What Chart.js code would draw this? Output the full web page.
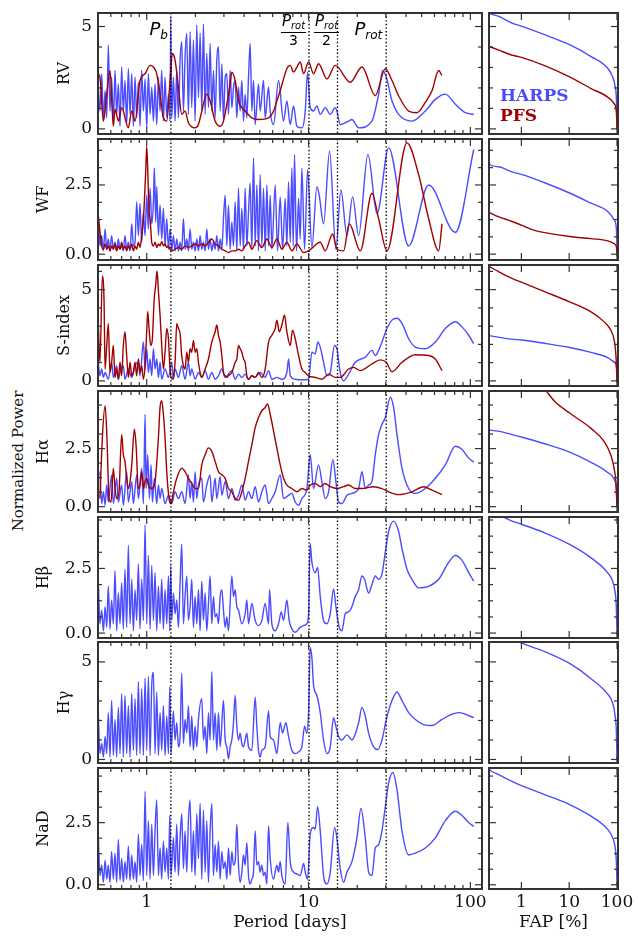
<!DOCTYPE html>
<html>
<head>
<meta charset="utf-8">
<script src="https://cdn.jsdelivr.net/npm/chart.js@4.4.0/dist/chart.umd.min.js"></script>
<style>
  html, body { margin: 0; padding: 0; background: #fff; }
  #fig { position: relative; width: 638px; height: 936px; overflow: hidden; }
  #fig canvas { position: absolute; }
  #ylab { position: absolute; left: 18px; top: 461px; transform: translate(-50%, -50%) rotate(-90deg);
          font: 15px 'DejaVu Serif'; white-space: nowrap; color: #111; }
</style>
</head>
<body>
<div id="fig"><div id="ylab">Normalized Power</div></div>
<script>
// periodogramas: pares [periodo (dias), potencia normalizada]
const rvHarps = [[0.502,2.03],[0.514,0.87],[0.527,2.69],[0.540,0.38],[0.553,1.86],[0.566,0.54],[0.579,4.09],[0.593,0.87],[0.607,2.52],[0.622,0.21],[0.637,2.85],[0.652,0.71],[0.668,2.19],[0.684,0.13],[0.700,3.02],[0.717,0.87],[0.734,2.36],[0.752,0.21],[0.770,2.94],[0.789,0.71],[0.808,2.69],[0.827,0.13],[0.847,2.52],[0.867,0.54],[0.888,2.28],[0.909,0.13],[0.931,2.85],[0.954,0.87],[0.977,2.44],[1.000,0.05],[1.024,2.69],[1.049,0.71],[1.074,2.03],[1.100,0.38],[1.126,2.19],[1.153,0.21],[1.181,2.52],[1.209,0.87],[1.238,2.85],[1.268,0.38],[1.298,2.52],[1.330,0.54],[1.362,1.70],[1.394,0.38],[1.407,5.41],[1.428,0.54],[1.462,2.52],[1.497,0.38],[1.533,2.85],[1.570,0.54],[1.608,3.35],[1.646,4.26],[1.686,0.87],[1.726,3.51],[1.768,4.67],[1.810,0.71],[1.854,4.75],[1.898,1.04],[1.944,4.34],[1.991,0.38],[2.039,5.08],[2.088,1.53],[2.138,4.67],[2.189,0.87],[2.242,5.13],[2.296,0.71],[2.351,3.68],[2.407,1.04],[2.465,4.17],[2.525,0.87],[2.585,2.85],[2.647,0.54],[2.711,3.35],[2.776,4.01],[2.843,0.87],[2.911,3.18],[2.981,0.38],[3.053,2.52],[3.126,2.69],[3.201,0.71],[3.278,2.85],[3.357,1.04],[3.437,2.03],[3.520,2.36],[3.604,0.54],[3.691,2.03],[3.780,0.87],[3.870,2.36],[3.963,0.38],[4.059,1.70],[4.156,0.54],[4.256,2.52],[4.358,4.17],[4.463,0.87],[4.570,2.36],[4.680,0.21],[4.908,2.19],[5.025,0.87],[5.270,2.36],[5.396,0.54],[5.659,2.03],[5.795,0.87],[6.077,0.21],[6.525,2.36],[7.007,0.38],[7.347,1.37],[7.705,0.21],[8.079,1.12],[8.472,0.13],[9.097,0.05],[9.540,0.87],[9.862,2.77],[10.24,1.04],[10.74,0.87],[11.26,1.12],[11.81,0.71],[12.68,1.04],[13.62,0.71],[14.62,1.04],[14.97,0.87],[15.70,0.21],[17.68,0.38],[18.54,0.46],[20.39,0.05],[24.65,0.38],[27.11,1.70],[28.69,2.85],[30.24,2.52],[32.78,1.37],[36.04,0.71],[43.58,0.38],[52.69,0.87],[60.75,1.44],[70.05,1.70],[80.77,1.20],[93.13,0.79],[104.9,0.71]];
const rvPfs = [[0.502,2.69],[0.514,2.52],[0.540,0.38],[0.566,1.70],[0.593,2.85],[0.622,0.13],[0.637,0.96],[0.668,0.38],[0.700,1.04],[0.770,0.05],[0.808,0.87],[0.847,0.38],[0.909,2.36],[0.977,2.69],[1.049,3.10],[1.100,3.02],[1.153,2.69],[1.209,1.70],[1.268,0.54],[1.330,0.38],[1.394,2.36],[1.442,3.68],[1.497,3.35],[1.570,2.03],[1.646,0.71],[1.726,0.87],[1.810,0.30],[1.991,0.05],[2.088,0.21],[2.189,0.87],[2.351,1.70],[2.465,1.37],[2.647,0.38],[2.843,0.13],[2.981,0.38],[3.126,1.20],[3.278,2.19],[3.357,2.77],[3.520,2.36],[3.691,1.37],[3.870,1.04],[4.059,0.87],[4.463,0.54],[4.908,0.46],[5.659,0.54],[6.077,0.87],[6.372,1.37],[6.682,1.86],[7.347,2.94],[7.705,3.10],[8.079,2.77],[8.472,3.02],[8.884,3.27],[9.316,2.69],[10.00,3.27],[10.74,2.69],[11.53,3.18],[12.99,2.44],[14.62,3.10],[18.11,2.28],[21.38,3.02],[25.85,1.62],[29.81,2.94],[32.78,2.36],[36.04,1.62],[41.56,0.87],[46.79,0.79],[52.69,1.29],[57.94,1.86],[63.71,2.85],[66.80,2.61]];

const wfHarps = [[0.502,1.40],[0.514,0.30],[0.527,0.67],[0.540,0.12],[0.553,0.91],[0.566,0.18],[0.579,0.55],[0.593,0.12],[0.607,0.67],[0.622,0.18],[0.637,0.43],[0.652,0.12],[0.668,0.55],[0.684,0.18],[0.700,0.30],[0.717,0.12],[0.734,0.67],[0.752,0.18],[0.770,0.43],[0.789,0.12],[0.808,1.10],[0.827,0.30],[0.847,0.43],[0.867,1.89],[0.888,0.67],[0.909,1.83],[0.931,0.43],[0.954,1.52],[0.977,0.67],[1.000,2.13],[1.024,0.91],[1.049,2.38],[1.074,1.10],[1.100,1.89],[1.115,3.11],[1.137,1.16],[1.153,2.44],[1.181,0.67],[1.209,1.77],[1.238,0.55],[1.268,1.65],[1.298,0.30],[1.330,1.28],[1.362,0.18],[1.394,0.91],[1.428,0.12],[1.462,0.67],[1.497,0.12],[1.533,0.55],[1.570,0.12],[1.608,0.43],[1.646,0.12],[1.686,1.28],[1.726,0.18],[1.768,0.55],[1.810,0.12],[1.854,0.91],[1.898,0.18],[1.944,0.43],[1.991,0.12],[2.039,0.55],[2.088,0.12],[2.138,0.67],[2.189,0.18],[2.242,0.43],[2.296,0.12],[2.351,0.91],[2.407,0.18],[2.465,0.55],[2.525,0.12],[2.585,0.43],[2.647,0.18],[2.711,0.67],[2.776,0.12],[2.843,0.55],[2.911,0.18],[2.981,1.28],[3.053,2.13],[3.126,0.30],[3.201,1.77],[3.278,0.18],[3.357,1.16],[3.437,0.30],[3.520,1.89],[3.604,0.12],[3.691,2.38],[3.780,0.30],[3.870,1.65],[3.963,0.18],[4.059,2.38],[4.156,0.30],[4.256,1.52],[4.358,2.56],[4.463,0.18],[4.570,3.48],[4.680,0.30],[4.792,2.50],[4.908,0.12],[5.025,2.87],[5.146,0.30],[5.270,2.38],[5.396,0.12],[5.526,2.50],[5.659,0.30],[5.795,2.13],[5.934,0.18],[6.223,2.50],[6.43,0.12],[6.682,2.07],[6.91,0.18],[7.175,2.01],[7.347,0.30],[7.524,2.62],[7.705,0.43],[7.890,3.11],[8.04,0.30],[8.19,3.60],[8.43,0.12],[8.676,2.01],[8.884,0.55],[9.097,3.11],[9.45,0.18],[9.862,3.05],[10.49,0.24],[11.26,2.44],[11.64,2.13],[12.38,1.10],[13.49,3.72],[14.76,0.18],[15.85,2.32],[17.27,0.67],[18.72,2.07],[20.39,0.67],[23.28,3.60],[26.47,1.46],[31.26,3.84],[41.56,0.30],[55.25,2.50],[80.77,0.79],[104.9,3.78]];
const wfPfs = [[0.502,1.40],[0.527,0.30],[0.540,0.18],[0.553,0.37],[0.566,0.18],[0.579,0.30],[0.593,0.12],[0.607,0.30],[0.622,0.18],[0.637,0.37],[0.652,0.12],[0.668,0.30],[0.684,0.18],[0.700,0.43],[0.717,0.18],[0.734,0.30],[0.752,0.12],[0.770,0.30],[0.789,0.18],[0.808,0.37],[0.827,0.12],[0.847,0.30],[0.867,0.18],[0.888,0.43],[0.909,0.24],[0.931,0.67],[0.954,1.28],[0.967,1.89],[0.986,3.00],[1.000,3.90],[1.014,3.11],[1.034,1.50],[1.049,1.28],[1.074,0.43],[1.100,0.30],[1.126,0.43],[1.153,0.24],[1.181,0.37],[1.209,0.30],[1.238,0.46],[1.268,0.30],[1.298,0.37],[1.330,0.24],[1.362,0.30],[1.394,0.18],[1.428,0.12],[1.497,0.18],[1.570,0.24],[1.646,0.18],[1.726,0.30],[1.810,0.24],[1.898,0.30],[1.991,0.37],[2.088,0.30],[2.189,0.37],[2.296,0.30],[2.407,0.43],[2.525,0.55],[2.647,0.37],[2.776,0.30],[2.911,0.18],[3.053,0.12],[3.201,0.06],[3.357,0.12],[3.520,0.12],[3.691,0.18],[3.870,0.12],[4.059,0.30],[4.256,0.43],[4.463,0.18],[4.792,0.49],[5.146,0.24],[5.526,0.55],[5.934,0.24],[6.372,0.55],[6.843,0.18],[7.347,0.43],[7.890,0.12],[8.472,0.37],[9.316,0.06],[10.00,0.12],[11.81,0.43],[12.68,0.12],[14.08,0.73],[14.97,0.18],[16.47,0.12],[17.84,1.10],[20.88,0.12],[24.65,2.20],[27.11,1.28],[30.52,0.12],[40.58,4.02],[47.92,2.87],[55.25,1.28],[63.71,0.12],[66.80,1.10]];

const sHarps = [[0.502,1.02],[0.514,0.28],[0.527,0.65],[0.540,0.19],[0.553,0.46],[0.579,0.09],[0.607,1.02],[0.622,0.19],[0.652,0.83],[0.668,0.09],[0.684,0.46],[0.717,0.83],[0.734,0.09],[0.770,0.65],[0.808,0.19],[0.847,0.83],[0.888,1.02],[0.909,0.28],[0.954,2.13],[0.977,0.65],[1.000,1.76],[1.024,0.46],[1.049,1.20],[1.074,0.28],[1.100,1.76],[1.126,0.65],[1.153,1.20],[1.181,0.19],[1.209,1.02],[1.238,0.09],[1.298,0.65],[1.362,0.19],[1.428,1.02],[1.462,0.09],[1.497,0.65],[1.570,0.19],[1.646,0.83],[1.726,0.09],[1.810,1.02],[1.854,0.28],[1.898,0.65],[1.991,0.09],[2.088,0.46],[2.189,0.19],[2.296,0.56],[2.407,0.09],[2.525,0.46],[2.647,0.09],[2.776,0.28],[2.911,0.65],[3.053,0.19],[3.201,0.37],[3.357,0.56],[3.520,0.09],[3.691,0.37],[3.870,0.19],[4.059,0.37],[4.256,0.09],[4.463,0.28],[4.680,0.19],[5.025,0.46],[5.396,0.19],[5.659,0.56],[5.934,0.09],[6.372,0.19],[6.843,0.09],[7.347,0.46],[7.524,1.20],[7.705,0.28],[8.273,0.09],[9.097,0.06],[10.00,0.09],[10.49,1.57],[11.00,1.48],[11.42,2.13],[11.81,1.85],[12.38,1.02],[12.99,0.28],[13.62,0.46],[14.48,1.94],[14.97,1.76],[15.70,0.46],[16.47,0.00],[17.68,0.37],[19.44,1.02],[22.42,1.30],[24.65,1.67],[25.85,1.39],[27.11,1.67],[28.42,2.13],[30.52,2.87],[32.78,3.33],[35.20,3.43],[37.79,3.15],[41.56,2.31],[45.70,1.85],[52.69,1.76],[60.75,2.13],[70.05,2.87],[80.77,3.24],[88.82,2.96],[97.66,2.50],[104.9,2.04]];
const sPfs = [[0.502,3.15],[0.514,1.02],[0.532,5.74],[0.545,4.35],[0.553,0.65],[0.566,1.94],[0.579,3.15],[0.593,0.46],[0.607,1.02],[0.622,1.94],[0.637,0.19],[0.652,0.65],[0.668,0.09],[0.684,1.02],[0.700,0.28],[0.717,1.94],[0.734,2.69],[0.752,1.39],[0.770,0.19],[0.789,1.02],[0.808,0.28],[0.827,0.46],[0.847,1.02],[0.867,0.28],[0.888,1.20],[0.909,0.46],[0.931,0.83],[0.954,0.09],[0.977,0.83],[1.000,2.69],[1.014,3.80],[1.034,2.87],[1.059,1.94],[1.084,2.31],[1.110,4.35],[1.137,5.28],[1.159,6.02],[1.181,4.91],[1.209,3.61],[1.238,1.94],[1.268,0.65],[1.298,1.57],[1.330,2.87],[1.362,2.31],[1.394,0.65],[1.428,0.09],[1.497,1.02],[1.533,3.15],[1.570,2.87],[1.608,2.59],[1.646,1.39],[1.686,0.83],[1.726,0.65],[1.768,1.57],[1.810,1.02],[1.854,1.76],[1.898,1.57],[1.944,2.22],[1.991,1.57],[2.039,1.76],[2.088,1.02],[2.138,0.46],[2.189,0.19],[2.296,0.65],[2.407,1.20],[2.525,2.13],[2.647,2.69],[2.711,3.06],[2.776,2.50],[2.843,2.13],[2.911,1.39],[2.981,0.46],[3.053,0.28],[3.126,0.19],[3.201,0.28],[3.357,0.46],[3.520,1.02],[3.604,1.20],[3.691,1.94],[3.780,1.76],[3.870,1.57],[3.963,1.20],[4.059,1.02],[4.156,0.28],[4.256,0.09],[4.463,0.28],[4.680,0.19],[4.908,0.46],[5.146,0.19],[5.396,0.65],[5.659,2.13],[5.934,2.50],[6.223,2.87],[6.372,3.33],[6.59,2.69],[6.843,3.06],[7.10,3.61],[7.347,2.69],[7.705,1.94],[7.96,2.78],[8.273,2.31],[8.676,1.39],[9.097,0.65],[9.540,0.46],[10.00,0.28],[11.00,0.19],[12.09,0.09],[13.30,0.37],[14.62,0.19],[15.70,0.19],[17.68,0.65],[18.99,0.74],[20.88,0.56],[24.65,0.93],[27.76,1.15],[30.24,1.02],[32.78,0.50],[37.79,1.02],[45.70,1.43],[55.25,1.39],[60.75,1.20],[66.80,0.56]];

const haHarps = [[0.514,1.51],[0.527,0.13],[0.540,0.64],[0.553,0.06],[0.566,0.93],[0.579,0.20],[0.607,1.37],[0.622,0.13],[0.652,1.22],[0.668,0.20],[0.700,0.93],[0.717,0.06],[0.752,1.51],[0.770,0.20],[0.808,1.08],[0.827,0.13],[0.867,1.37],[0.888,0.35],[0.931,1.66],[0.954,0.13],[0.977,3.98],[0.991,0.78],[1.014,2.24],[1.039,0.35],[1.064,1.80],[1.084,0.20],[1.115,1.22],[1.153,0.13],[1.181,0.93],[1.209,0.35],[1.238,0.78],[1.298,0.13],[1.362,0.49],[1.428,0.13],[1.497,0.64],[1.570,0.35],[1.646,0.64],[1.726,0.13],[1.810,1.37],[1.854,0.35],[1.898,1.08],[1.944,0.20],[1.991,1.51],[2.039,0.35],[2.088,0.93],[2.189,1.22],[2.242,0.20],[2.351,0.93],[2.465,1.37],[2.525,0.20],[2.647,1.22],[2.711,0.35],[2.843,1.29],[2.911,0.49],[3.053,1.08],[3.201,0.35],[3.357,0.78],[3.520,0.28],[3.691,0.49],[3.870,0.93],[4.059,0.28],[4.256,0.64],[4.463,0.35],[4.680,0.86],[4.908,0.20],[5.146,0.64],[5.396,0.93],[5.659,0.13],[5.934,0.35],[6.223,0.64],[6.682,1.37],[7.007,0.35],[7.524,0.49],[7.890,0.57],[8.273,0.20],[8.676,0.06],[9.097,0.35],[9.769,0.78],[10.24,2.24],[10.74,0.78],[11.53,1.80],[12.09,1.08],[12.68,0.35],[13.30,0.64],[14.14,2.02],[14.76,1.08],[15.33,0.20],[16.08,0.13],[17.27,0.49],[18.54,0.57],[20.39,0.78],[21.38,1.51],[22.42,0.78],[23.51,0.93],[24.65,1.08],[25.85,2.24],[27.11,3.11],[28.42,3.55],[29.81,3.84],[32.01,4.71],[33.56,4.27],[35.20,3.11],[37.79,1.66],[41.56,0.78],[45.70,0.57],[52.69,0.78],[60.75,1.22],[70.05,1.80],[80.77,2.60],[88.82,2.46],[97.66,2.09],[104.9,1.92]];
const haPfs = [[0.514,0.35],[0.532,2.97],[0.553,4.35],[0.568,2.97],[0.585,0.35],[0.602,0.20],[0.622,1.66],[0.637,0.78],[0.652,0.35],[0.674,0.64],[0.700,3.11],[0.717,2.24],[0.734,1.95],[0.752,1.22],[0.770,0.78],[0.789,1.08],[0.808,1.80],[0.839,3.33],[0.859,2.67],[0.888,0.78],[0.909,0.93],[0.931,1.51],[0.954,0.78],[0.977,1.08],[1.000,1.22],[1.024,0.93],[1.074,0.78],[1.126,1.08],[1.181,2.97],[1.209,4.27],[1.238,4.56],[1.268,3.98],[1.298,2.97],[1.330,1.51],[1.374,0.35],[1.414,0.13],[1.462,0.64],[1.533,1.22],[1.646,1.66],[1.726,1.51],[1.810,1.22],[1.898,1.00],[1.991,0.78],[2.088,0.78],[2.189,1.80],[2.296,2.24],[2.407,2.53],[2.525,2.38],[2.647,1.95],[2.776,1.51],[2.911,1.37],[3.053,1.22],[3.201,0.78],[3.357,0.64],[3.520,0.35],[3.691,0.28],[3.870,0.64],[4.059,1.22],[4.256,1.95],[4.463,2.67],[4.680,3.40],[4.908,3.84],[5.146,4.13],[5.396,4.27],[5.58,4.42],[5.795,3.98],[6.077,3.26],[6.372,2.53],[6.682,1.80],[7.007,1.22],[7.347,0.93],[7.890,0.78],[8.472,0.64],[9.097,0.78],[9.769,0.71],[10.24,0.93],[11.00,1.00],[11.81,0.86],[12.68,1.00],[13.62,0.86],[14.97,0.78],[16.47,0.86],[17.68,0.93],[19.44,0.78],[21.38,0.78],[25.24,0.86],[28.42,0.78],[31.26,0.64],[36.04,0.52],[43.58,0.64],[51.45,0.86],[57.94,0.71],[66.80,0.52]];

const hbHarps = [[0.502,2.08],[0.514,0.36],[0.527,0.89],[0.540,0.09],[0.553,1.02],[0.566,0.22],[0.579,1.81],[0.593,0.16],[0.607,1.28],[0.622,0.36],[0.637,2.41],[0.652,0.09],[0.668,1.55],[0.684,0.36],[0.700,1.94],[0.717,0.16],[0.734,2.47],[0.752,0.22],[0.770,3.40],[0.789,0.36],[0.808,2.08],[0.827,0.09],[0.847,1.68],[0.867,0.49],[0.888,2.67],[0.909,0.16],[0.931,2.08],[0.954,0.49],[0.977,4.19],[1.000,0.36],[1.024,3.00],[1.049,0.16],[1.074,2.61],[1.100,0.49],[1.126,2.34],[1.153,0.09],[1.181,1.81],[1.209,0.36],[1.238,2.08],[1.268,0.16],[1.298,1.68],[1.330,0.36],[1.362,2.21],[1.388,0.09],[1.407,2.61],[1.428,0.49],[1.462,1.55],[1.497,0.75],[1.533,1.28],[1.570,0.22],[1.608,1.94],[1.646,3.44],[1.686,0.36],[1.726,1.42],[1.768,2.21],[1.810,0.49],[1.854,1.02],[1.898,2.08],[1.944,0.22],[1.991,1.42],[2.039,0.36],[2.088,1.68],[2.138,0.09],[2.189,2.01],[2.242,0.49],[2.296,1.55],[2.351,0.09],[2.407,1.15],[2.465,2.21],[2.525,0.36],[2.585,1.42],[2.647,0.62],[2.711,0.75],[2.776,0.36],[2.843,1.42],[2.911,1.68],[2.981,0.89],[3.053,0.22],[3.126,0.62],[3.201,0.09],[3.357,2.21],[3.437,1.42],[3.520,1.68],[3.604,1.02],[3.691,0.89],[3.870,0.36],[4.059,0.75],[4.156,1.28],[4.256,0.36],[4.358,0.75],[4.463,1.15],[4.680,0.49],[4.908,0.29],[5.146,0.49],[5.396,1.15],[5.659,0.36],[5.74,1.68],[5.934,0.36],[6.223,0.09],[6.525,0.36],[6.78,0.82],[7.007,0.49],[7.347,1.28],[7.59,0.49],[7.890,0.16],[8.273,0.03],[8.884,0.22],[9.316,0.29],[9.769,0.36],[10.00,0.75],[10.24,3.47],[10.49,2.74],[11.00,2.34],[11.37,2.54],[11.81,1.42],[12.38,0.49],[12.99,0.36],[13.62,0.75],[14.28,1.71],[14.76,1.02],[15.48,0.22],[16.08,0.09],[16.86,0.75],[17.68,0.82],[18.54,1.02],[19.44,1.42],[20.39,1.68],[21.38,2.21],[22.20,2.08],[23.51,1.55],[24.65,1.88],[25.85,2.21],[27.11,2.08],[28.42,2.28],[29.81,3.13],[31.26,3.93],[33.56,4.33],[36.04,3.93],[37.79,3.27],[40.58,2.47],[43.58,2.08],[47.92,1.75],[55.25,1.81],[63.71,2.08],[73.46,2.74],[80.77,3.00],[88.82,2.81],[97.66,2.34],[104.9,2.01]];

const hgHarps = [[0.502,2.40],[0.514,0.30],[0.527,0.82],[0.540,0.12],[0.553,1.18],[0.566,0.30],[0.579,2.40],[0.593,0.12],[0.607,3.02],[0.622,0.21],[0.637,2.05],[0.652,0.12],[0.668,2.67],[0.684,0.30],[0.700,3.37],[0.717,0.12],[0.734,3.28],[0.752,0.30],[0.770,2.75],[0.789,0.12],[0.808,3.37],[0.827,0.47],[0.847,3.11],[0.867,0.21],[0.888,3.98],[0.909,0.30],[0.931,3.63],[0.954,0.21],[0.977,4.16],[1.000,0.47],[1.024,4.25],[1.049,0.21],[1.074,3.81],[1.100,4.46],[1.126,0.30],[1.153,3.46],[1.181,0.21],[1.209,2.40],[1.238,0.47],[1.268,2.75],[1.298,0.21],[1.330,2.23],[1.362,0.30],[1.388,3.72],[1.414,0.30],[1.462,2.49],[1.497,1.00],[1.533,1.88],[1.570,0.65],[1.608,1.18],[1.646,4.42],[1.686,0.82],[1.726,2.05],[1.768,1.35],[1.810,2.75],[1.854,0.65],[1.898,2.23],[1.944,0.47],[1.991,1.70],[2.039,0.65],[2.088,2.05],[2.189,3.11],[2.242,1.00],[2.296,1.70],[2.351,0.30],[2.407,2.40],[2.465,1.00],[2.525,4.51],[2.585,1.00],[2.647,2.40],[2.711,0.47],[2.776,2.40],[2.843,0.65],[2.981,3.02],[3.053,1.00],[3.126,0.65],[3.201,0.04],[3.278,0.65],[3.357,1.00],[3.437,1.88],[3.520,3.28],[3.604,1.70],[3.691,1.00],[3.780,1.35],[3.870,0.82],[3.963,0.65],[4.059,1.00],[4.156,1.35],[4.256,0.65],[4.463,0.47],[4.680,3.19],[4.792,1.70],[4.908,0.47],[5.025,0.12],[5.146,0.47],[5.396,0.65],[5.659,2.49],[5.795,1.18],[6.077,1.00],[6.372,0.30],[6.682,1.88],[6.91,1.35],[7.24,1.88],[7.524,1.18],[7.890,0.47],[8.273,0.30],[8.676,0.39],[9.097,0.65],[9.45,1.70],[9.769,1.35],[10.00,2.40],[10.24,5.74],[10.49,5.21],[10.74,3.81],[11.26,3.28],[11.81,2.40],[12.38,1.00],[12.99,0.30],[13.62,0.65],[14.28,2.14],[14.76,1.70],[15.33,1.18],[16.08,1.00],[17.27,1.26],[18.54,1.00],[20.39,1.88],[21.38,2.67],[22.42,2.23],[23.51,1.35],[25.24,0.65],[26.85,0.51],[28.42,1.00],[30.24,2.05],[32.78,3.02],[35.20,3.46],[37.79,3.02],[41.56,2.40],[45.70,2.05],[51.45,1.79],[57.94,1.74],[66.80,2.05],[77.03,2.32],[84.70,2.40],[93.13,2.32],[104.9,2.14]];

const naHarps = [[0.502,2.03],[0.514,0.37],[0.527,0.79],[0.540,0.10],[0.553,0.99],[0.566,0.23],[0.579,0.79],[0.593,0.10],[0.607,1.34],[0.622,0.23],[0.637,1.27],[0.652,0.10],[0.668,1.82],[0.684,0.17],[0.700,1.06],[0.717,0.10],[0.734,0.93],[0.752,0.23],[0.770,1.55],[0.789,0.17],[0.808,1.20],[0.827,0.23],[0.847,0.93],[0.867,0.10],[0.888,2.03],[0.909,0.37],[0.931,1.62],[0.954,0.17],[0.977,3.76],[1.000,0.37],[1.024,2.58],[1.049,0.23],[1.074,2.44],[1.100,0.37],[1.126,2.17],[1.153,3.41],[1.181,0.37],[1.209,1.48],[1.238,0.23],[1.268,1.75],[1.298,0.51],[1.330,1.48],[1.362,0.23],[1.388,2.79],[1.414,0.37],[1.462,1.89],[1.497,0.51],[1.533,2.44],[1.570,0.37],[1.608,1.89],[1.646,2.86],[1.686,0.65],[1.726,2.17],[1.768,0.51],[1.810,2.58],[1.854,3.41],[1.898,0.51],[1.944,2.17],[1.991,0.37],[2.039,2.86],[2.088,1.06],[2.138,3.27],[2.189,0.23],[2.242,3.00],[2.296,0.51],[2.351,2.58],[2.407,0.10],[2.465,2.17],[2.525,3.27],[2.585,0.37],[2.647,1.62],[2.711,0.51],[2.776,1.75],[2.843,0.23],[2.911,1.34],[2.981,0.65],[3.053,0.93],[3.126,0.23],[3.201,1.48],[3.278,0.37],[3.357,1.34],[3.437,0.79],[3.520,0.93],[3.604,2.44],[3.691,0.79],[3.780,0.10],[3.870,0.51],[3.963,1.20],[4.059,0.79],[4.156,1.69],[4.256,0.37],[4.358,0.03],[4.463,0.23],[4.570,0.51],[4.680,2.17],[4.792,0.79],[4.908,0.93],[5.025,0.51],[5.146,0.79],[5.270,0.37],[5.396,0.51],[5.526,0.03],[5.659,2.38],[5.795,1.06],[6.077,0.23],[6.372,0.79],[6.525,0.51],[6.682,0.93],[6.843,0.37],[7.175,0.03],[7.45,2.51],[7.705,0.93],[8.079,0.51],[8.472,0.44],[8.884,0.37],[9.316,0.86],[9.540,0.51],[9.862,0.23],[10.24,2.03],[10.74,2.31],[11.00,2.24],[11.37,3.14],[11.81,2.17],[12.38,0.37],[12.99,0.03],[13.62,0.51],[14.48,2.31],[14.97,1.89],[15.70,0.65],[16.47,0.10],[17.27,0.51],[18.54,0.93],[19.91,1.89],[21.07,3.07],[22.42,1.89],[23.51,0.51],[24.65,0.37],[25.85,1.48],[27.11,1.62],[28.42,2.17],[29.81,3.14],[31.26,4.10],[33.23,4.52],[35.20,3.83],[37.79,2.17],[41.56,1.20],[45.70,1.27],[52.69,1.48],[60.75,1.89],[70.05,2.58],[80.77,2.96],[88.82,2.79],[97.66,2.51],[104.9,2.35]];

// curvas FAP: pares [FAP (%), potencia]
const rvHarpsFap = [[0.209,5.63],[0.327,5.51],[0.619,5.18],[1.0,5.02],[3.06,4.60],[10.2,4.11],[28.7,3.53],[63.9,2.96],[81.1,2.54],[90.6,2.13],[97.1,1.47],[99.3,0.48],[100,-0.01]];
const rvPfsFap = [[0.209,4.03],[0.327,3.86],[0.619,3.61],[1.0,3.49],[3.06,3.09],[10.2,2.54],[28.7,1.97],[63.9,1.55],[87.8,1.22],[97.1,0.81],[100,0.0]];
const wfHarpsFap = [[0.212,3.37],[0.219,3.23],[0.327,3.16],[0.619,2.98],[1.0,2.88],[3.06,2.58],[10.2,2.21],[28.7,1.84],[63.9,1.54],[87.8,1.23],[97.1,0.93],[99.3,0.44],[100,-0.05]];
const wfPfsFap = [[0.209,1.51],[0.327,1.36],[0.619,1.19],[1.0,1.05],[1.89,0.86],[3.06,0.78],[10.2,0.64],[28.7,0.56],[63.9,0.48],[87.8,0.38],[97.5,0.26],[100,-0.05]];
const sHarpsFap = [[0.209,2.48],[0.619,2.29],[1.0,2.24],[3.06,2.06],[10.2,1.83],[28.7,1.56],[63.9,1.28],[87.8,1.03],[99.0,0.63],[100,0.0]];
const sPfsFap = [[0.209,6.28],[0.327,6.00],[0.619,5.63],[1.0,5.41],[3.06,4.89],[10.2,4.33],[28.7,3.78],[54.6,3.22],[75.0,2.76],[87.8,2.20],[95.2,1.37],[99.6,0.07],[100,-0.1]];
const haHarpsFap = [[0.209,3.30],[0.327,3.25],[0.619,3.11],[1.0,3.00],[3.06,2.71],[10.2,2.35],[28.7,1.91],[63.9,1.47],[87.8,1.17],[97.1,0.73],[100,0.0]];
const haPfsFap = [[1.0,6.30],[2.2,5.45],[3.32,4.98],[4.94,4.54],[10.2,4.03],[28.7,3.37],[54.6,2.79],[75.0,2.20],[87.8,1.61],[95.2,1.03],[100,0.0]];
const hbHarpsFap = [[0.30,4.62],[0.415,4.49],[0.619,4.34],[1.0,4.21],[3.06,3.88],[10.2,3.43],[28.7,2.91],[63.9,2.33],[81.1,2.01],[90.6,1.62],[97.1,0.97],[100,-0.06]];
const hgHarpsFap = [[0.70,6.20],[1.0,5.97],[3.06,5.53],[10.2,4.92],[28.7,4.14],[63.9,3.35],[81.1,2.91],[90.6,2.30],[97.1,1.43],[100,-0.05]];
const naHarpsFap = [[0.209,4.66],[0.237,4.57],[0.327,4.44],[0.619,4.17],[1.0,3.99],[3.06,3.63],[10.2,3.23],[28.7,2.76],[63.9,2.23],[81.1,1.90],[90.6,1.56],[97.1,0.90],[100,-0.04]];

const rowNames = ['RV', 'WF', 'S-index', 'H\u03b1', 'H\u03b2', 'H\u03b3', 'NaD'];
const yLimits = [[-0.25, 5.66], [-0.21, 4.16], [-0.28, 6.35], [-0.23, 4.98], [-0.19, 4.49], [-0.18, 6.02], [-0.17, 4.70]];
const yMajor = [[0, 5], [0, 2.5], [0, 5], [0, 2.5], [0, 2.5], [0, 5], [0, 2.5]];
const yMinorStep = [1, 0.625, 1, 0.625, 0.625, 1, 0.625];
const periodTicks = [1, 10, 100];
const periodMinor = [0.6, 0.7, 0.8, 0.9, 2, 3, 4, 5, 6, 7, 8, 9, 20, 30, 40, 50, 60, 70, 80, 90];
const fapTicks = [1, 10, 100];
const markPeriods = [1.41, 10.07, 15.1, 30.2]; // P_b, P_rot/3, P_rot/2, P_rot

const rows = [
    { harps: rvHarps, pfs: rvPfs, harpsFap: rvHarpsFap, pfsFap: rvPfsFap },
    { harps: wfHarps, pfs: wfPfs, harpsFap: wfHarpsFap, pfsFap: wfPfsFap },
    { harps: sHarps, pfs: sPfs, harpsFap: sHarpsFap, pfsFap: sPfsFap },
    { harps: haHarps, pfs: haPfs, harpsFap: haHarpsFap, pfsFap: haPfsFap },
    { harps: hbHarps, harpsFap: hbHarpsFap },
    { harps: hgHarps, harpsFap: hgHarpsFap },
    { harps: naHarps, harpsFap: naHarpsFap }
];

const AZUL = '#4b4bff';
const ROJO = '#a00000';
const rowTops = [13, 139, 265, 391, 517, 642, 768];
const rowHeight = 121;
const PAD = 12;

Chart.defaults.font.family = "'DejaVu Serif'";
Chart.defaults.color = '#111';

// texto P con subindice (estilo mathtext)
function textoSub(ctx, x, y, sub, size, align) {
    ctx.font = `italic ${size}px 'DejaVu Sans'`;
    const wP = ctx.measureText('P').width;
    const subSize = Math.round(size * 0.68);
    ctx.font = `italic ${subSize}px 'DejaVu Sans'`;
    const wS = ctx.measureText(sub).width;
    const total = wP + wS;
    let x0 = x;
    if (align === 'right') x0 = x - total;
    if (align === 'center') x0 = x - total / 2;
    ctx.textAlign = 'left';
    ctx.textBaseline = 'alphabetic';
    ctx.font = `italic ${size}px 'DejaVu Sans'`;
    ctx.fillText('P', x0, y);
    ctx.font = `italic ${subSize}px 'DejaVu Sans'`;
    ctx.fillText(sub, x0 + wP, y + size * 0.22);
    return total;
}

function fraccion(ctx, cx, top, den) {
    const w = textoSub(ctx, cx, top + 13, 'rot', 15, 'center');
    ctx.strokeStyle = '#000';
    ctx.lineWidth = 1;
    ctx.beginPath();
    ctx.moveTo(cx - w / 2 - 1, top + 19.5);
    ctx.lineTo(cx + w / 2 + 1, top + 19.5);
    ctx.stroke();
    ctx.font = "14px 'DejaVu Sans'";
    ctx.textAlign = 'center';
    ctx.fillText(den, cx, top + 32);
}

const framePlugin = {
    id: 'frame',
    afterDatasetsDraw(chart, args, opts) {
        if (!opts.periodLines) return;
        const { ctx, chartArea: a } = chart;
        const x = chart.scales.x;
        ctx.save();
        ctx.strokeStyle = '#000';
        ctx.lineWidth = 1.4;
        ctx.setLineDash([1.4, 2.2]);
        markPeriods.forEach(p => {
            const px = x.getPixelForValue(p);
            ctx.beginPath();
            ctx.moveTo(px, a.top);
            ctx.lineTo(px, a.bottom);
            ctx.stroke();
        });
        ctx.restore();
    },
    afterDraw(chart, args, opts) {
        const { ctx, chartArea: a } = chart;
        const x = chart.scales.x, y = chart.scales.y;
        ctx.save();
        ctx.strokeStyle = '#333';
        ctx.lineWidth = 1.2;
        const seg = (x1, y1, x2, y2) => { ctx.beginPath(); ctx.moveTo(x1, y1); ctx.lineTo(x2, y2); ctx.stroke(); };
        const xt = (vals, len) => vals.forEach(v => {
            const px = x.getPixelForValue(v);
            if (px < a.left - 0.5 || px > a.right + 0.5) return;
            seg(px, a.bottom, px, a.bottom - len);
            seg(px, a.top, px, a.top + len);
        });
        const yt = (vals, len) => vals.forEach(v => {
            const py = y.getPixelForValue(v);
            if (py < a.top - 0.5 || py > a.bottom + 0.5) return;
            seg(a.left, py, a.left + len, py);
            seg(a.right, py, a.right - len, py);
        });
        xt(opts.xMajor, 7);
        xt(opts.xMinor || [], 4);
        yt(opts.yMajor, 7);
        yt(opts.yMinor, 4);
        ctx.strokeStyle = '#333';
        ctx.lineWidth = 2;
        ctx.strokeRect(a.left, a.top, a.right - a.left, a.bottom - a.top);

        if (opts.labels) {
            ctx.fillStyle = '#000';
            textoSub(ctx, x.getPixelForValue(markPeriods[0]) - 3, a.top + 22, 'b', 18, 'right');
            fraccion(ctx, x.getPixelForValue(markPeriods[1]) - 15.5, a.top, '3');
            fraccion(ctx, x.getPixelForValue(markPeriods[2]) - 11, a.top, '2');
            textoSub(ctx, x.getPixelForValue(markPeriods[3]) - 4, a.top + 22, 'rot', 18, 'right');
        }
        if (opts.legend) {
            ctx.font = "bold 17px 'DejaVu Serif'";
            ctx.textAlign = 'left';
            ctx.textBaseline = 'alphabetic';
            ctx.fillStyle = AZUL;
            ctx.fillText('HARPS', a.left + 11, a.top + 88);
            ctx.fillStyle = ROJO;
            ctx.fillText('PFS', a.left + 11, a.top + 108);
        }
        ctx.restore();
    }
};

function menores(i) {
    const out = [];
    const step = yMinorStep[i];
    for (let k = Math.ceil(yLimits[i][0] / step); k * step <= yLimits[i][1]; k++) {
        const v = k * step;
        if (!yMajor[i].some(m => Math.abs(m - v) < 1e-6)) out.push(v);
    }
    return out;
}

function serie(data, color) {
    return {
        data: data,
        borderColor: color,
        borderWidth: 1.4,
        pointRadius: 0,
        fill: false,
        cubicInterpolationMode: 'monotone'
    };
}

function crearPanel(i, lado) {
    const bottomRow = i === rows.length - 1;
    const izq = lado === 'izq';
    const fig = document.getElementById('fig');
    const canvas = document.createElement('canvas');
    const w = izq ? 500 : 153;
    const extraAbajo = bottomRow ? 46 : PAD;
    const h = PAD + rowHeight + extraAbajo;
    canvas.width = w;
    canvas.height = h;
    canvas.style.left = (izq ? 0 : 485) + 'px';
    canvas.style.top = (rowTops[i] - PAD) + 'px';
    fig.appendChild(canvas);

    const r = rows[i];
    const datasets = [];
    if (izq) {
        if (r.pfs) datasets.push(serie(r.pfs, ROJO));
        datasets.push(serie(r.harps, AZUL));
    } else {
        if (r.pfsFap) datasets.push(serie(r.pfsFap, ROJO));
        datasets.push(serie(r.harpsFap, AZUL));
    }

    const conDecimal = yMajor[i][1] === 2.5;
    const fmt = v => (conDecimal ? v.toFixed(1) : String(v));
    // el titulo queda a la izquierda de las etiquetas, como en matplotlib
    const padTitulo = conDecimal ? 34 : 55;

    new Chart(canvas, {
        type: 'line',
        data: { datasets },
        options: {
            responsive: false,
            animation: false,
            events: [],
            layout: { padding: { top: PAD, bottom: bottomRow ? 0 : PAD, left: izq ? 0 : 4, right: izq ? 18 : 20 } },
            scales: {
                x: {
                    type: 'logarithmic',
                    min: izq ? 0.5 : 0.21,
                    max: izq ? 118 : 105,
                    afterBuildTicks: s => { s.ticks = (izq ? periodTicks : fapTicks).map(v => ({ value: v })); },
                    afterFit: s => {
                        s.height = bottomRow ? 46 : 0;
                        s.paddingLeft = 0; s.paddingRight = 0; s.paddingTop = 0; s.paddingBottom = 0;
                    },
                    ticks: {
                        display: bottomRow,
                        callback: v => String(v),
                        font: { size: 17 },
                        padding: 3,
                        maxRotation: 0,
                        autoSkip: false
                    },
                    grid: { display: false, drawTicks: false },
                    border: { display: false },
                    title: {
                        display: bottomRow,
                        text: izq ? 'Period [days]' : 'FAP [%]',
                        font: { size: 17 },
                        padding: { top: 0, bottom: 2 }
                    }
                },
                y: {
                    type: 'linear',
                    min: yLimits[i][0],
                    max: yLimits[i][1],
                    afterBuildTicks: s => { s.ticks = yMajor[i].map(v => ({ value: v })); },
                    afterFit: s => {
                        s.width = izq ? 98 : 0;
                        s.paddingLeft = 0; s.paddingRight = 0; s.paddingTop = 0; s.paddingBottom = 0;
                    },
                    ticks: {
                        display: izq,
                        callback: v => fmt(v),
                        font: { size: 17 },
                        padding: 6
                    },
                    grid: { display: false, drawTicks: false },
                    border: { display: false },
                    title: {
                        display: izq,
                        text: rowNames[i],
                        font: { size: 16 },
                        padding: { top: padTitulo, bottom: 0 }
                    }
                }
            },
            plugins: {
                legend: { display: false },
                tooltip: { enabled: false },
                frame: {
                    xMajor: izq ? periodTicks : fapTicks,
                    xMinor: izq ? periodMinor : [],
                    yMajor: yMajor[i],
                    yMinor: menores(i),
                    periodLines: izq,
                    labels: izq && i === 0,
                    legend: !izq && i === 0
                }
            }
        },
        plugins: [framePlugin]
    });
}

rows.forEach((r, i) => {
    crearPanel(i, 'izq');
    crearPanel(i, 'der');
});
</script>
</body>
</html>
